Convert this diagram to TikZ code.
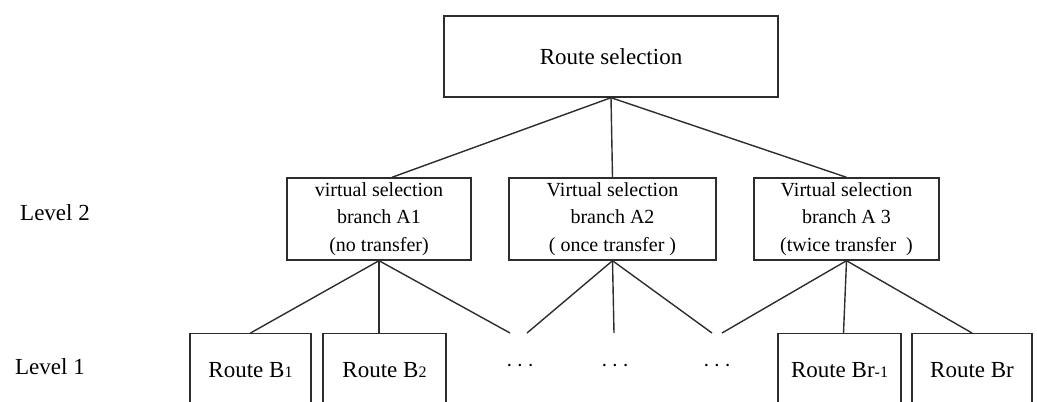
\documentclass[tikz,border=0pt]{standalone}
\usepackage{fontspec}
\setmainfont{Liberation Serif}
\definecolor{LineGray}{RGB}{45,45,45}
\usetikzlibrary{
    positioning
}

\begin{document}
\begin{tikzpicture}[
    x=0.5pt,
    y=-0.5pt,
    box/.style={
        draw=LineGray,
        line width=0.7pt,
        inner sep=0pt,
        align=center
    },
    branchbox/.style={
        box,
        minimum width=92pt,
        minimum height=41pt,
        font=\fontsize{10}{13.75}\selectfont
    },
    routebox/.style={
        box,
        anchor=north,
        minimum width=61pt,
        minimum height=36pt,
        font=\fontsize{11.5}{13}\selectfont
    },
    link/.style={
        draw=LineGray,
        line width=0.7pt
    },
    lvl/.style={
        font=\fontsize{11.5}{13}\selectfont
    },
    dotsnode/.style={
        font=\fontsize{12.5}{14}\selectfont
    }
]
%
    \clip (0,0) rectangle (1037,401);
%
    % Root
%
    \node[
        box,
        minimum width=167pt,
        minimum height=40.5pt,
        font=\fontsize{11.5}{13}\selectfont
    ]
    (root) at (611,56.5) {Route selection};
%
    % Level 2
%
    \node[lvl] (lvl2) at (55,213) {Level 2};
%
    \node[branchbox] (A1) at (379,219) {
        virtual selection\\
        branch A1\\
        (no transfer)
    };
    \node[branchbox, minimum width=103.5pt] (A2) at (612.5,219) {
        Virtual selection\\
        branch A2\\
        ( once transfer )
    };
    \node[branchbox, minimum width=92.5pt] (A3) at (846.5,219) {
        Virtual selection\\
        branch A 3\\
        (twice transfer\ \ )
    };
%
    % Level 1
%
    \node[lvl] (lvl1) at (50,367) {Level 1};
%
    \node[routebox, minimum width=60.5pt] (B1) at (250.5,333) {Route B{\footnotesize 1}};
    \node[routebox, minimum width=61.5pt] (B2) at (384.5,333) {Route B{\footnotesize 2}};
    \node[routebox, minimum width=61.5pt] (Brm) at (839.5,333) {Route Br{\footnotesize -1}};
    \node[routebox, minimum width=60pt] (Br) at (972,333) {Route Br};
%
    \node[dotsnode] (dots1) at (520,366) {$\cdots$};
    \node[dotsnode] (dots2) at (615,366) {$\cdots$};
    \node[dotsnode] (dots3) at (717,366) {$\cdots$};
%
    \coordinate (d1l) at (510,333);
    \coordinate (d1r) at (527,333);
    \coordinate (d2) at (614,333);
    \coordinate (d3l) at (712,333);
    \coordinate (d3r) at (722,333);
%
    % Links
%
    \path[link] (root.south) -- ([xshift=6.5pt]A1.north);
    \path[link] (root.south) -- (A2.north);
    \path[link] (root.south) -- (A3.north);
%
    \path[link] (A1.south) -- (B1.north);
    \path[link] (A1.south) -- (A1.south |- B2.north);
    \path[link] (A1.south) -- (d1l);
%
    \path[link] (A2.south) -- (d1r);
    \path[link] (A2.south) -- (d2);
    \path[link] (A2.south) -- (d3l);
%
    \path[link] (A3.south) -- (d3r);
    \path[link] (A3.south) -- ([xshift=-1.5pt]A3.south |- Brm.north);
    \path[link] (A3.south) -- (Br.north);
%
\end{tikzpicture}
\end{document}
